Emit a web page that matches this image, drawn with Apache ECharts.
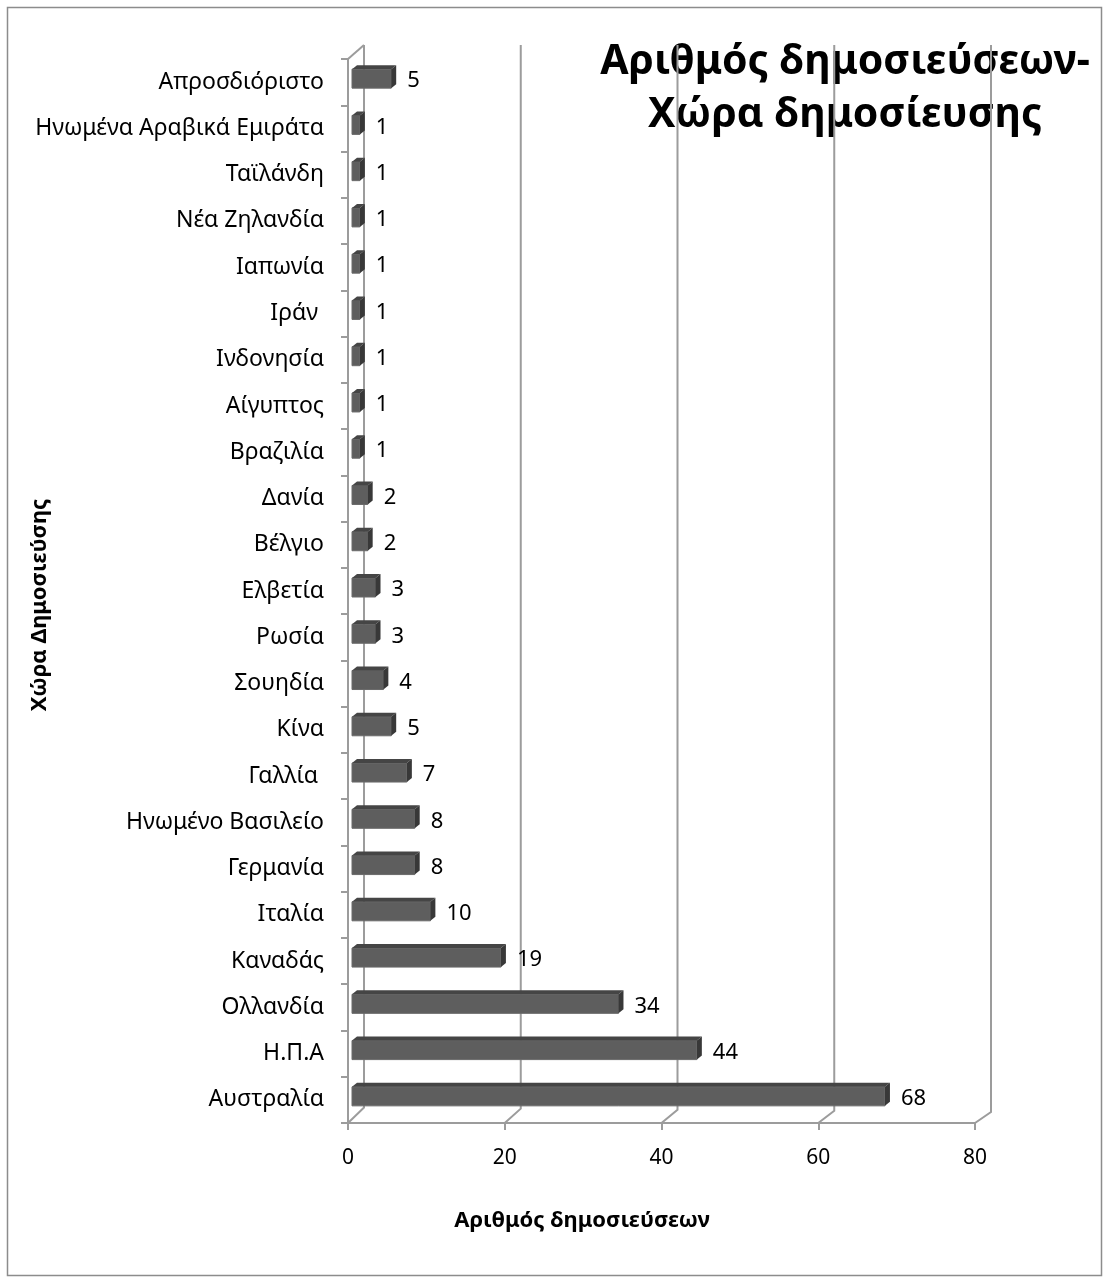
<!DOCTYPE html>
<html>
<head>
<meta charset="utf-8">
<script src="https://cdn.jsdelivr.net/npm/echarts@6/dist/echarts.min.js"></script>
<style>
  html, body { margin: 0; padding: 0; background: #ffffff; }
  #chart { width: 1109px; height: 1283px; }
</style>
</head>
<body>
<div id="chart"></div>
<script>
// Countries from bottom (largest) to top of the chart
const countries = ['Αυστραλία', 'Η.Π.Α', 'Ολλανδία', 'Καναδάς', 'Ιταλία', 'Γερμανία',
  'Ηνωμένο Βασιλείο', 'Γαλλία ', 'Κίνα', 'Σουηδία', 'Ρωσία', 'Ελβετία', 'Βέλγιο', 'Δανία',
  'Βραζιλία', 'Αίγυπτος', 'Ινδονησία', 'Ιράν ', 'Ιαπωνία', 'Νέα Ζηλανδία', 'Ταϊλάνδη',
  'Ηνωμένα Αραβικά Εμιράτα', 'Απροσδιόριστο'];
const publications = [68, 44, 34, 19, 10, 8, 8, 7, 5, 4, 3, 3, 2, 2, 1, 1, 1, 1, 1, 1, 1, 1, 5];
const valueTicks = [0, 20, 40, 60, 80];
const titleLines = ['Αριθμός δημοσιεύσεων-', 'Χώρα δημοσίευσης'];
const xAxisName = 'Αριθμός δημοσιεύσεων';
const yAxisName = 'Χώρα Δημοσιεύσης';

const FONT = '"Noto Sans", "Open Sans", sans-serif';
const WALL = '#9c9c9c';
const DEPTH_X = 16;
const WALL_TOP = 45;

const chart = echarts.init(document.getElementById('chart'));

// Back wall / floor lines of the pseudo-3D frame, one per value tick
function renderFrame(params, api) {
  const cs = params.coordSys;
  const v = api.value(0);
  const x = api.coord([v, 0])[0];
  const yb = cs.y + cs.height;
  const dy = 15.5 - 4.5 * v / 80;
  const children = [{
    type: 'polyline',
    shape: { points: [[x, yb], [x + DEPTH_X, yb - dy], [x + DEPTH_X, WALL_TOP]] },
    style: { stroke: WALL, lineWidth: 2, fill: null }
  }];
  if (v === 0) {
    children.push({
      type: 'line',
      shape: { x1: cs.x, y1: cs.y, x2: cs.x + DEPTH_X, y2: WALL_TOP },
      style: { stroke: WALL, lineWidth: 2 }
    });
  }
  return { type: 'group', children };
}

// Shaded block bar: front face, top face, right side face and value label
function renderBar(params, api) {
  const i = api.value(1);
  const v = api.value(0);
  const p0 = api.coord([0, i]);
  const p1 = api.coord([v, i]);
  const c = p0[1];
  const x0 = p0[0] + 4;
  const x1 = p1[0] + 4;
  const yT = c - 13;
  const yB = c + 6;
  const dx = 5, dz = 4;
  return {
    type: 'group',
    children: [
      { type: 'rect', shape: { x: x0, y: yT, width: x1 - x0, height: yB - yT },
        style: { fill: '#5e5e5e', stroke: '#6a6a6a', lineWidth: 1 } },
      { type: 'polygon', shape: { points: [[x0, yT], [x0 + dx, yT - dz], [x1 + dx, yT - dz], [x1, yT]] },
        style: { fill: '#454545' } },
      { type: 'polygon', shape: { points: [[x1, yT], [x1 + dx, yT - dz], [x1 + dx, yB - dz], [x1, yB]] },
        style: { fill: '#383838' } },
      { type: 'text', style: { text: String(v), x: x1 + dx + 11, y: c - 1,
        verticalAlign: 'middle', align: 'left', fill: '#000', font: '22px ' + FONT } }
    ]
  };
}

chart.setOption({
  backgroundColor: '#ffffff',
  animation: false,
  title: {
    text: titleLines.join('\n'),
    left: 840, top: 31, textAlign: 'center', z: 0,
    textStyle: { fontFamily: FONT, fontSize: 41, fontWeight: 'bold', color: '#000', lineHeight: 53 }
  },
  graphic: [
    { type: 'rect', shape: { x: 7.5, y: 7.5, width: 1094, height: 1268 },
      style: { fill: null, stroke: '#8c8c8c', lineWidth: 1.5 }, z: -1 },
    { type: 'text', x: 40, y: 605, rotation: Math.PI / 2,
      style: { text: yAxisName, align: 'center', verticalAlign: 'middle',
        font: 'bold 22px ' + FONT, fill: '#000' } },
    { type: 'text', x: 582, y: 1221,
      style: { text: xAxisName, align: 'center', verticalAlign: 'middle',
        font: 'bold 22px ' + FONT, fill: '#000' } }
  ],
  grid: { left: 348, top: 59, width: 627, height: 1064, containLabel: false },
  xAxis: {
    type: 'value', min: 0, max: 80, interval: 20,
    axisLine: { show: true, lineStyle: { color: WALL, width: 2 } },
    axisTick: { show: true, length: 7, lineStyle: { color: WALL, width: 2 } },
    axisLabel: { fontFamily: FONT, fontSize: 21, color: '#000', margin: 25,
      formatter: v => valueTicks.includes(v) ? String(v) : '' },
    splitLine: { show: false }
  },
  yAxis: {
    type: 'category', data: countries,
    axisLine: { show: true, lineStyle: { color: WALL, width: 2 } },
    axisTick: { show: true, length: 7, lineStyle: { color: WALL, width: 2 } },
    axisLabel: { fontFamily: FONT, fontSize: 23, color: '#000', margin: 24, interval: 0,
      padding: [8, 0, 0, 0] },
    splitLine: { show: false }
  },
  series: [
    {
      type: 'custom', name: 'frame', z: 1, silent: true,
      renderItem: renderFrame,
      data: valueTicks.map(v => [v, 0]),
      encode: { x: 0, y: 1 }
    },
    {
      type: 'custom', name: 'Αριθμός δημοσιεύσεων', z: 3,
      renderItem: renderBar,
      data: publications.map((v, i) => [v, i]),
      encode: { x: 0, y: 1 }
    }
  ]
});
</script>
</body>
</html>
